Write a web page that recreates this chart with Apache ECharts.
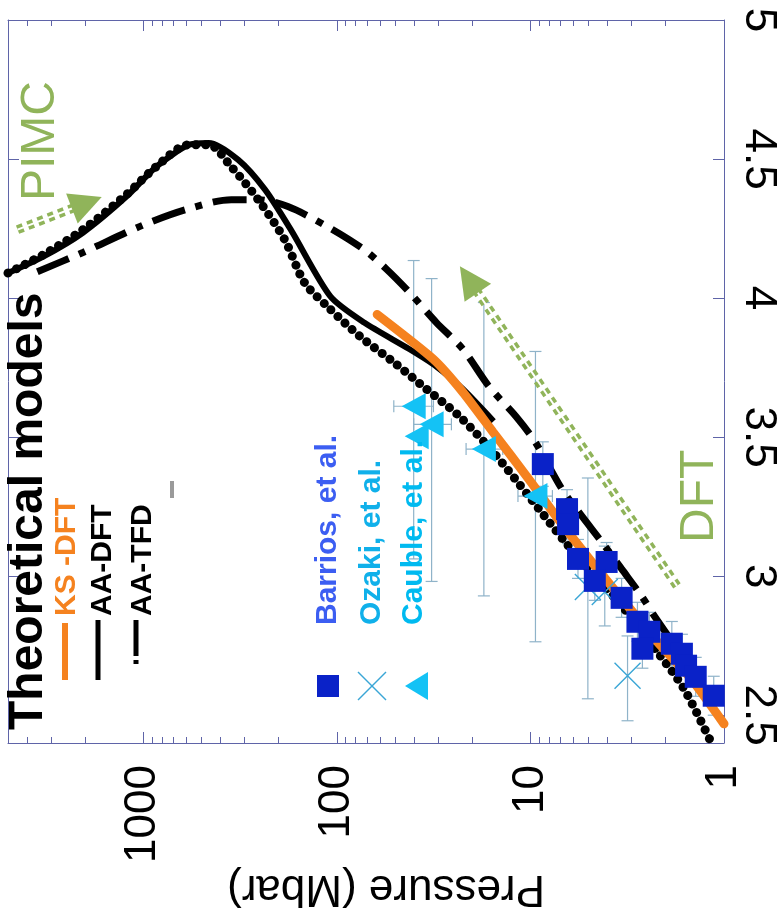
<!DOCTYPE html>
<html><head><meta charset="utf-8">
<script src="https://cdn.jsdelivr.net/npm/echarts@6/dist/echarts.min.js"></script>
<style>html,body{margin:0;padding:0;background:#fff}#c{width:780px;height:924px}</style>
</head><body><div id="c"></div>
<script>
// ---- tick labels ----
const xMajorTicks = [1, 10, 100, 1000];
const xMinorTicks = [2,3,4,5,6,7,8,9,20,30,40,50,60,70,80,90,200,300,400,500,600,700,800,900,2000,3000,4000];
const yTicks = [2.5, 3, 3.5, 4, 4.5, 5];
const pMin = 1, pMax = 5000;

// ---- theoretical models: pressure (Mbar) / compression ----
const ksDftP = [61.9, 31.7, 22.3, 15.6, 10.2, 7.19, 4.82, 3.27, 2.21, 1.48, 1.0];
const ksDftC = [3.941, 3.780, 3.661, 3.518, 3.349, 3.205, 3.051, 2.907, 2.764, 2.631, 2.469];

const aaDftP = [5000, 3289, 2051, 1222, 859, 582, 459, 323, 235, 173, 108, 72.3, 42.1, 30.6, 22.3, 15.5];
const aaDftC = [4.09, 4.149, 4.235, 4.365, 4.472, 4.551, 4.558, 4.497, 4.390, 4.246, 4.006, 3.912, 3.816, 3.754, 3.672, 3.557];

const dottedP = [5000, 3289, 2051, 1222, 859, 582, 459, 351, 255, 186, 147, 112, 75.9, 50.8, 34.4, 23.3, 15.6, 10.2, 6.62, 4.65, 3.27, 2.21, 1.61, 1.17];
const dottedC = [4.09, 4.156, 4.246, 4.372, 4.472, 4.551, 4.551, 4.472, 4.354, 4.210, 4.056, 3.970, 3.862, 3.769, 3.672, 3.575, 3.446, 3.288, 3.123, 3.001, 2.882, 2.728, 2.595, 2.405];

const aaTfdP = [3527, 2051, 1047, 603, 351, 255, 179, 112, 72.3, 55.2, 42.1, 30.6, 22.3, 16.4, 11.9, 9.44, 6.87, 5.42, 4.28, 3.38, 2.67, 2.29, 1.61, 1.16];
const aaTfdC = [4.095, 4.164, 4.257, 4.318, 4.354, 4.354, 4.329, 4.257, 4.174, 4.103, 4.020, 3.912, 3.816, 3.683, 3.575, 3.482, 3.313, 3.216, 3.123, 3.026, 2.929, 2.857, 2.703, 2.552];

// ---- experiments ----
const barriosP = [8.63, 6.47, 6.39, 5.68, 4.04, 4.65, 3.38, 2.80, 2.43, 2.64, 1.86, 1.65, 1.57, 1.40, 1.13];
const barriosC = [3.403, 3.241, 3.187, 3.062, 3.051, 2.983, 2.922, 2.836, 2.800, 2.739, 2.757, 2.721, 2.678, 2.638, 2.570];
const barriosErr = [0.08, 0.07, 0.07, 0.07, 0.07, 0.07, 0.07, 0.07, 0.07, 0.07, 0.08, 0.07, 0.07, 0.07, 0.07];

const ozakiP = [5.05, 4.13, 3.15];
const ozakiC = [2.961, 2.943, 2.642];
const ozakiCLo = [2.559, 2.821, 2.480];
const ozakiCHi = [3.353, 3.108, 2.785];

const caubleP = [40.1, 32.4, 38.7, 17.4, 9.42];
const caubleC = [3.611, 3.546, 3.503, 3.457, 3.288];
const caubleCLo = [3.062, 2.981, 3.503, 2.929, 2.764];
const caubleCHi = [4.135, 4.070, 3.503, 3.984, 3.808];
const caublePLo = [31.7, 25.6, 38.7, 13.9, 7.7];
const caublePHi = [50.8, 40.1, 38.7, 21.5, 11.6];

// ---- annotation arrows (start, head) ----
const pimcArrowP = [4463, 1958];
const pimcArrowC = [4.246, 4.343];
const dftArrowP = [1.75, 20.8];
const dftArrowC = [2.965, 4.067];

const FONT = 'Liberation Sans, Arial, Helvetica, sans-serif';
const AXIS = '#5f64a8';
const GREEN = '#90b45a';
const ORANGE = '#f5821f';
const zip = (a, b) => a.map((v, i) => [v, b[i]]);

function errRender(params, api) {
  const x = api.value(0), y = api.value(1);
  const clo = api.value(2), chi = api.value(3), plo = api.value(4), phi = api.value(5);
  const st = { stroke: '#8fb3c9', lineWidth: 1.2 };
  const cap = 6, ch = [];
  if (chi > clo) {
    const a = api.coord([x, clo]), b = api.coord([x, chi]);
    ch.push({ type: 'line', shape: { x1: a[0], y1: a[1], x2: b[0], y2: b[1] }, style: st });
    ch.push({ type: 'line', shape: { x1: a[0] - cap, y1: a[1], x2: a[0] + cap, y2: a[1] }, style: st });
    ch.push({ type: 'line', shape: { x1: b[0] - cap, y1: b[1], x2: b[0] + cap, y2: b[1] }, style: st });
  }
  if (phi > plo) {
    const a = api.coord([plo, y]), b = api.coord([phi, y]);
    ch.push({ type: 'line', shape: { x1: a[0], y1: a[1], x2: b[0], y2: b[1] }, style: st });
    ch.push({ type: 'line', shape: { x1: a[0], y1: a[1] - cap, x2: a[0], y2: a[1] + cap }, style: st });
    ch.push({ type: 'line', shape: { x1: b[0], y1: b[1] - cap, x2: b[0], y2: b[1] + cap }, style: st });
  }
  return { type: 'group', children: ch };
}

const errData = [];
barriosP.forEach((p, i) => errData.push([p, barriosC[i], barriosC[i] - barriosErr[i], barriosC[i] + barriosErr[i], p, p]));
ozakiP.forEach((p, i) => errData.push([p, ozakiC[i], ozakiCLo[i], ozakiCHi[i], p, p]));
caubleP.forEach((p, i) => errData.push([p, caubleC[i], caubleCLo[i], caubleCHi[i], caublePLo[i], caublePHi[i]]));

// data axis (log) carrying the labels
const dataXAxis = {
  type: 'log', logBase: 10, min: pMin, max: pMax, inverse: true, position: 'bottom',
  axisLine: { show: true, onZero: false, lineStyle: { color: AXIS, width: 1 } },
  axisTick: { show: false },
  axisLabel: {
    show: true, rotate: 90, fontSize: 44, color: '#000', fontFamily: FONT, margin: 22,
    formatter: v => (xMajorTicks.indexOf(Math.round(v)) >= 0 ? String(Math.round(v)) : '')
  },
  splitLine: { show: false }
};
// tick-only axes in decade units of the same pressure range
function tickAx(pos, ticks, len, showLine) {
  return {
    type: 'value', min: Math.log10(pMin), max: Math.log10(pMax), inverse: true, position: pos,
    axisLine: { show: showLine, onZero: false, lineStyle: { color: AXIS, width: 1 } },
    axisTick: { show: true, inside: true, length: len, customValues: ticks.map(t => Math.log10(t)), lineStyle: { color: AXIS, width: 1 } },
    axisLabel: { show: false },
    splitLine: { show: false }
  };
}
function yAx(pos, showLabel) {
  return {
    type: 'value', min: 2.4, max: 5, position: pos,
    axisLine: { show: true, onZero: false, lineStyle: { color: AXIS, width: 1 } },
    axisTick: { show: true, inside: true, length: 11, customValues: yTicks, lineStyle: { color: AXIS, width: 1 } },
    axisLabel: showLabel ? { show: true, rotate: -90, fontSize: 44, color: '#000', fontFamily: FONT, margin: 12, customValues: yTicks, formatter: v => String(v) } : { show: false },
    splitLine: { show: false }
  };
}

function rotText(text, x, y, size, color, weight, rot, align) {
  return { type: 'text', x: x, y: y, rotation: rot === undefined ? Math.PI / 2 : rot, z: 100,
    style: { text: text, fontSize: size, fontWeight: weight, fontFamily: FONT, fill: color, align: align || 'left', verticalAlign: 'middle' } };
}

const arrowCoords = [ { coords: zip(pimcArrowP, pimcArrowC) }, { coords: zip(dftArrowP, dftArrowC) } ];

const option = {
  animation: false,
  backgroundColor: '#fff',
  grid: { left: 8, right: 49, top: 20, bottom: 181, containLabel: false },
  xAxis: [
    dataXAxis,
    tickAx('bottom', xMajorTicks, 11, false),
    tickAx('bottom', xMinorTicks, 6, false),
    tickAx('top', xMajorTicks, 11, true),
    tickAx('top', xMinorTicks, 6, false)
  ],
  yAxis: [yAx('right', true), yAx('left', false)],
  series: [
    { type: 'custom', name: 'error bars', renderItem: errRender, data: errData, encode: { x: 0, y: 1 }, z: 2, silent: true },
    { type: 'lines', coordinateSystem: 'cartesian2d', z: 3, silent: true,
      lineStyle: { color: GREEN, width: 9, type: [6, 5], opacity: 1 }, data: arrowCoords },
    { type: 'lines', coordinateSystem: 'cartesian2d', z: 3, silent: true,
      lineStyle: { color: '#fff', width: 2, type: 'solid', opacity: 1 }, data: arrowCoords },
    { type: 'lines', coordinateSystem: 'cartesian2d', z: 3, silent: true,
      symbol: ['none', 'triangle'], symbolSize: 32,
      lineStyle: { color: GREEN, width: 0.01, opacity: 1 }, data: arrowCoords },
    { type: 'line', name: 'AA-TFD', data: zip(aaTfdP, aaTfdC), showSymbol: false, smooth: 0.3, z: 4,
      lineStyle: { color: '#000', width: 7, type: [34, 11, 7, 11], cap: 'butt' } },
    { type: 'line', name: 'AA (dotted)', data: zip(dottedP, dottedC), showSymbol: false, smooth: 0.3, z: 4,
      lineStyle: { color: '#000', width: 9, type: [0.1, 9.5], cap: 'round' } },
    { type: 'line', name: 'AA-DFT', data: zip(aaDftP, aaDftC), showSymbol: false, smooth: 0.25, z: 4,
      lineStyle: { color: '#000', width: 6 } },
    { type: 'line', name: 'KS -DFT', data: zip(ksDftP, ksDftC), showSymbol: false, smooth: 0.2, z: 5,
      lineStyle: { color: ORANGE, width: 9, cap: 'round' } },
    { type: 'scatter', name: 'Ozaki, et al.', data: zip(ozakiP, ozakiC), z: 6,
      symbol: 'path://M0 0L10 10M10 0L0 10', symbolSize: 26,
      itemStyle: { color: 'rgba(0,0,0,0)', borderColor: '#3aa6d6', borderWidth: 1.4, opacity: 1 } },
    { type: 'scatter', name: 'Barrios, et al.', data: zip(barriosP, barriosC), z: 7,
      symbol: 'rect', symbolSize: 22, itemStyle: { color: '#0a22c8', opacity: 1 } },
    { type: 'scatter', name: 'Cauble, et al.', data: zip(caubleP, caubleC), z: 7,
      symbol: 'triangle', symbolRotate: 90, symbolSize: [26, 24], itemStyle: { color: '#14c2f5', opacity: 1 } }
  ],
  graphic: [
    rotText('Theoretical models', 29, 730, 48, '#000', 'bold'),
    rotText('KS -DFT', 67, 616, 30, ORANGE, 'bold'),
    rotText('AA-DFT', 103, 616, 30, '#000', 'bold'),
    rotText('AA-TFD', 143, 616, 30, '#000', 'bold'),
    { type: 'line', z: 100, shape: { x1: 65, y1: 623, x2: 65, y2: 680 }, style: { stroke: ORANGE, lineWidth: 6 } },
    { type: 'line', z: 100, shape: { x1: 98, y1: 620, x2: 98, y2: 680 }, style: { stroke: '#000', lineWidth: 5 } },
    { type: 'line', z: 100, shape: { x1: 136, y1: 620, x2: 136, y2: 667 }, style: { stroke: '#000', lineWidth: 5, lineDash: [36, 4, 4, 4] } },
    { type: 'rect', z: 100, shape: { x: 170, y: 481, width: 4, height: 17 }, style: { fill: '#9a9a9a' } },
    rotText('PIMC', 41, 201, 48, GREEN, 'normal'),
    rotText('DFT', 700, 543, 48, GREEN, 'normal'),
    rotText('Barrios, et al.', 328, 625, 30, '#3c5ef2', 'bold'),
    rotText('Ozaki, et al.', 372, 625, 30, '#10b0ea', 'bold'),
    rotText('Cauble, et al.', 414, 625, 30, '#00baf0', 'bold'),
    { type: 'rect', z: 100, shape: { x: 317, y: 675, width: 22, height: 22 }, style: { fill: '#0a22c8' } },
    { type: 'line', z: 100, shape: { x1: 358, y1: 672, x2: 386, y2: 700 }, style: { stroke: '#3aa6d6', lineWidth: 1.4 } },
    { type: 'line', z: 100, shape: { x1: 386, y1: 672, x2: 358, y2: 700 }, style: { stroke: '#3aa6d6', lineWidth: 1.4 } },
    { type: 'polygon', z: 100, shape: { points: [[405, 686], [428, 672], [428, 700]] }, style: { fill: '#14c2f5' } },
    rotText('Pressure (Mbar)', 386, 888, 44, '#000', 'normal', Math.PI, 'center')
  ]
};

const chart = echarts.init(document.getElementById('c'), null, { renderer: 'canvas' });
chart.setOption(option);
</script>
</body></html>
